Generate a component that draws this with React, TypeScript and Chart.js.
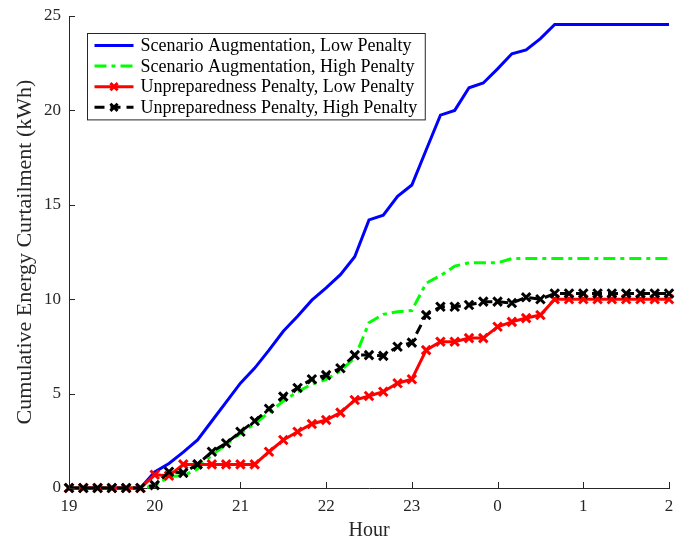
import React, { useEffect, useRef } from "react";
import { Chart, registerables } from "chart.js";
Chart.register(...registerables);

const timeLabels = [
  "19:00", "19:10", "19:20", "19:30", "19:40", "19:50",
  "20:00", "20:10", "20:20", "20:30", "20:40", "20:50",
  "21:00", "21:10", "21:20", "21:30", "21:40", "21:50",
  "22:00", "22:10", "22:20", "22:30", "22:40", "22:50",
  "23:00", "23:10", "23:20", "23:30", "23:40", "23:50",
  "0:00", "0:10", "0:20", "0:30", "0:40", "0:50",
  "1:00", "1:10", "1:20", "1:30", "1:40", "1:50",
  "2:00",
];

const scenarioLow = [
  0, 0, 0, 0, 0, 0,
  0.85, 1.3, 1.9, 2.55, 3.55, 4.55,
  5.55, 6.35, 7.3, 8.3, 9.1, 9.95,
  10.6, 11.3, 12.25, 14.2, 14.45, 15.45,
  16.05, 17.9, 19.75, 20.0, 21.2, 21.45,
  22.2, 23.0, 23.2, 23.8, 24.55, 24.55,
  24.55, 24.55, 24.55, 24.55, 24.55, 24.55,
  24.55,
];

const scenarioHigh = [
  0, 0, 0, 0, 0, 0,
  0.1, 0.6, 0.65, 1.0, 1.75, 2.3,
  2.9, 3.4, 4.0, 4.6, 5.1, 5.5,
  5.75, 6.2, 6.9, 8.75, 9.2, 9.34,
  9.4, 10.85, 11.25, 11.75, 11.93, 11.93,
  11.93, 12.15, 12.15, 12.15, 12.15, 12.15,
  12.15, 12.15, 12.15, 12.15, 12.15, 12.15,
  12.15,
];

const unprepLow = [
  0, 0, 0, 0, 0, 0,
  0.7, 0.65, 1.25, 1.25, 1.25, 1.25,
  1.25, 1.25, 1.92, 2.54, 2.98, 3.39,
  3.6, 3.99, 4.66, 4.87, 5.1, 5.55,
  5.76, 7.3, 7.75, 7.75, 7.94, 7.94,
  8.54, 8.8, 9.0, 9.16, 10.0, 10.0,
  10.0, 10.0, 10.0, 10.0, 10.0, 10.0,
  10.0,
];

const unprepHigh = [
  0, 0, 0, 0, 0, 0,
  0.15, 0.86, 0.8, 1.25, 1.92, 2.37,
  2.98, 3.55, 4.2, 4.84, 5.3, 5.76,
  5.98, 6.34, 7.04, 7.04, 7.0, 7.48,
  7.7, 9.16, 9.6, 9.6, 9.69, 9.87,
  9.87, 9.8, 10.1, 10.0, 10.3, 10.3,
  10.3, 10.3, 10.3, 10.3, 10.3, 10.3,
  10.3,
];

const seriesLabels = [
  "Scenario Augmentation, Low Penalty",
  "Scenario Augmentation, High Penalty",
  "Unpreparedness Penalty, Low Penalty",
  "Unpreparedness Penalty, High Penalty",
];

const yTicks = [0, 5, 10, 15, 20, 25];

const FONT = "'Liberation Serif', 'Times New Roman', serif";
const AXIS_COLOR = "#262626";

const inwardTicks = {
  id: "inwardTicks",
  afterDatasetsDraw(chart: any) {
    const { ctx, chartArea, scales } = chart;
    ctx.save();
    ctx.strokeStyle = AXIS_COLOR;
    ctx.lineWidth = 1;
    const xs = scales.x;
    xs.ticks.forEach((t: any, i: number) => {
      if (t.label === "" || t.label == null) return;
      const px = Math.round(xs.getPixelForTick(i)) + 0.5;
      ctx.beginPath();
      ctx.moveTo(px, chartArea.bottom);
      ctx.lineTo(px, chartArea.bottom - 6);
      ctx.stroke();
    });
    const ys = scales.y;
    ys.ticks.forEach((t: any) => {
      const py = Math.round(ys.getPixelForValue(t.value)) + 0.5;
      ctx.beginPath();
      ctx.moveTo(chartArea.left, py);
      ctx.lineTo(chartArea.left + 6, py);
      ctx.stroke();
    });
    ctx.restore();
  },
};

const boxLegend = {
  id: "boxLegend",
  afterDraw(chart: any) {
    const { ctx, chartArea } = chart;
    const dsets = chart.data.datasets;
    ctx.save();
    ctx.font = `18px ${FONT}`;
    const left = chartArea.left + 18.5;
    const top = chartArea.top + 17.5;
    const rowH = 20.6;
    const textX = left + 53;
    let maxW = 0;
    dsets.forEach((d: any) => {
      maxW = Math.max(maxW, ctx.measureText(d.label).width);
    });
    const w = textX - left + maxW + 8;
    const h = rowH * dsets.length + 4;
    ctx.fillStyle = "#ffffff";
    ctx.fillRect(left, top, w, h);
    ctx.strokeStyle = AXIS_COLOR;
    ctx.lineWidth = 1;
    ctx.strokeRect(left, top, w, h);
    dsets.forEach((d: any, row: number) => {
      const cy = top + 12 + row * rowH;
      const x0 = left + 7;
      const x1 = left + 46;
      ctx.save();
      ctx.strokeStyle = d.borderColor;
      ctx.lineWidth = d.borderWidth;
      ctx.setLineDash(d.borderDash || []);
      ctx.beginPath();
      ctx.moveTo(x0, cy);
      ctx.lineTo(x1, cy);
      ctx.stroke();
      ctx.setLineDash([]);
      if (d.pointRadius > 0) {
        const mx = (x0 + x1) / 2;
        const r = d.pointRadius * 0.6;
        ctx.lineWidth = d.pointBorderWidth;
        ctx.beginPath();
        ctx.moveTo(mx - r, cy - r);
        ctx.lineTo(mx + r, cy + r);
        ctx.moveTo(mx - r, cy + r);
        ctx.lineTo(mx + r, cy - r);
        ctx.stroke();
      }
      ctx.restore();
      ctx.fillStyle = "#000000";
      ctx.textBaseline = "middle";
      ctx.textAlign = "left";
      ctx.fillText(d.label, textX, cy + 1);
    });
    ctx.restore();
  },
};

export default function App() {
  const canvasRef = useRef<HTMLCanvasElement | null>(null);

  useEffect(() => {
    const canvas = canvasRef.current;
    if (!canvas) return;
    const chart = new Chart(canvas, {
      type: "line",
      data: {
        labels: timeLabels,
        datasets: [
          {
            label: seriesLabels[0],
            data: scenarioLow,
            borderColor: "#0000ff",
            backgroundColor: "#0000ff",
            borderWidth: 3,
            pointRadius: 0,
            order: 4,
            clip: false as any,
          },
          {
            label: seriesLabels[1],
            data: scenarioHigh,
            borderColor: "#00ff00",
            backgroundColor: "#00ff00",
            borderWidth: 3,
            borderDash: [12, 5, 4, 5],
            pointRadius: 0,
            order: 3,
            clip: false as any,
          },
          {
            label: seriesLabels[2],
            data: unprepLow,
            borderColor: "#ff0000",
            backgroundColor: "#ff0000",
            borderWidth: 3,
            pointStyle: "crossRot",
            pointRadius: 6,
            pointBorderWidth: 3,
            pointBorderColor: "#ff0000",
            order: 2,
            clip: false as any,
          },
          {
            label: seriesLabels[3],
            data: unprepHigh,
            borderColor: "#000000",
            backgroundColor: "#000000",
            borderWidth: 3,
            borderDash: [10, 6],
            pointStyle: "crossRot",
            pointRadius: 6,
            pointBorderWidth: 3,
            pointBorderColor: "#000000",
            order: 1,
            clip: false as any,
          },
        ],
      },
      options: {
        animation: false,
        responsive: false,
        devicePixelRatio: 1,
        layout: { padding: { top: 16, right: 25, left: 0, bottom: 0 } },
        plugins: {
          legend: { display: false },
          tooltip: { enabled: false },
        },
        elements: { line: { tension: 0 } },
        scales: {
          x: {
            type: "category",
            offset: false,
            grid: { display: true, drawOnChartArea: false, drawTicks: false },
            border: { display: true, color: AXIS_COLOR, width: 1 },
            ticks: {
              autoSkip: false,
              maxRotation: 0,
              padding: 8,
              color: "#262626",
              font: { family: FONT, size: 17 },
              callback: function (this: any, value: any) {
                const lab: string = this.getLabelForValue(value);
                if (lab.endsWith(":00")) return lab.split(":")[0];
                return "";
              },
            },
            title: {
              display: true,
              text: "Hour",
              color: "#262626",
              font: { family: FONT, size: 20 },
              padding: { top: 0, bottom: -3 },
            },
            afterFit: (scale: any) => {
              scale.height = 52;
              scale.paddingLeft = 0;
              scale.paddingRight = 0;
            },
          },
          y: {
            min: 0,
            max: 25,
            grid: { display: true, drawOnChartArea: false, drawTicks: false },
            border: { display: true, color: AXIS_COLOR, width: 1 },
            afterBuildTicks: (scale: any) => {
              scale.ticks = yTicks.map((v) => ({ value: v }));
            },
            ticks: {
              padding: 8,
              color: "#262626",
              font: { family: FONT, size: 17 },
            },
            title: {
              display: true,
              text: "Cumulative Energy Curtailment (kWh)",
              color: "#262626",
              font: { family: FONT, size: 22 },
              padding: { top: 12, bottom: 0 },
            },
            afterFit: (scale: any) => {
              scale.width = 69;
              scale.paddingTop = 0;
              scale.paddingBottom = 0;
            },
          },
        },
      },
      plugins: [inwardTicks, boxLegend],
    });
    return () => chart.destroy();
  }, []);

  return (
    <div style={{ position: "absolute", left: 0, top: 0, width: 694, height: 540, background: "#ffffff" }}>
      <canvas ref={canvasRef} width={694} height={540} />
    </div>
  );
}
